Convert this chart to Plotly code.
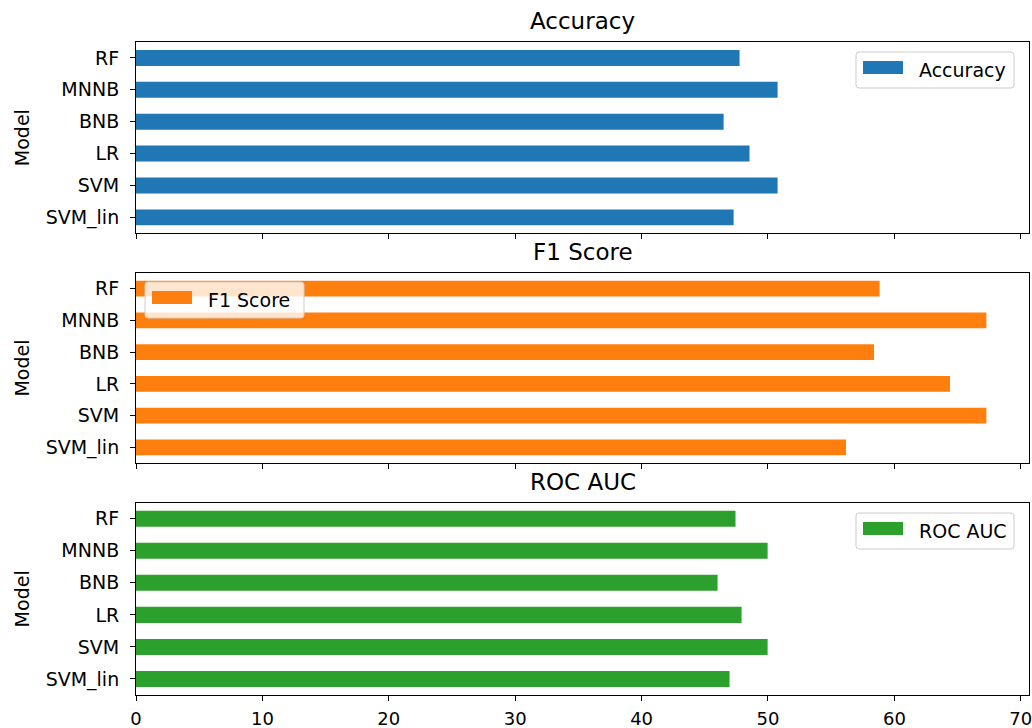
import plotly.graph_objects as go
from plotly.subplots import make_subplots

models = ["SVM_lin", "SVM", "LR", "BNB", "MNNB", "RF"]
accuracy = [47.28, 50.76, 48.54, 46.49, 50.76, 47.75]
f1_score = [56.17, 67.28, 64.40, 58.39, 67.28, 58.83]
roc_auc = [46.96, 49.97, 47.91, 46.01, 49.97, 47.43]
metric_names = ["Accuracy", "F1 Score", "ROC AUC"]
metric_values = [accuracy, f1_score, roc_auc]
colors = ["#1f77b4", "#ff7f0e", "#2ca02c"]
x_tick_vals = [0, 10, 20, 30, 40, 50, 60, 70]

W, H = 1032, 728
LEFT, RIGHT, TOP, BOTTOM = 136, 1029, 42, 695
ML, MR, MT, MB = LEFT, W - RIGHT, TOP, H - BOTTOM
PW, PH = RIGHT - LEFT, BOTTOM - TOP


def px(x):
    return (x - LEFT) / PW


def py(y):
    return (BOTTOM - y) / PH


rows_px = [(42, 233.3), (272.7, 463.3), (502.7, 695)]

fig = make_subplots(rows=3, cols=1, shared_xaxes=True)
FONT = "DejaVu Sans"
TICK = 19
XTICK = 18
TITLE = 23

for i, (name, vals, col) in enumerate(zip(metric_names, metric_values, colors)):
    fig.add_trace(
        go.Bar(x=vals, y=models, orientation="h", width=0.5, name=name,
               marker=dict(color=col, line=dict(width=0)), showlegend=False),
        row=i + 1, col=1)

layout_axes = {}
for i, (top, bot) in enumerate(rows_px):
    sfx = "" if i == 0 else str(i + 1)
    layout_axes["yaxis" + sfx] = dict(
        domain=[py(bot), py(top)], range=[-0.5, 5.5], type="category",
        showline=True, mirror=True, linecolor="black", linewidth=1,
        ticks="outside", ticklen=5, tickcolor="black", showgrid=False,
        ticklabelstandoff=7, automargin=False,
        tickfont=dict(size=TICK, color="black", family=FONT),
        title=dict(text="Model", font=dict(size=TICK, color="black", family=FONT), standoff=10),
    )
    layout_axes["xaxis" + sfx] = dict(
        range=[0, 70.65], tickvals=x_tick_vals, showline=True, mirror=True,
        linecolor="black", linewidth=1, ticks="outside", ticklen=5,
        tickcolor="black", showgrid=False, zeroline=False, automargin=False,
        showticklabels=(i == 2), ticklabelstandoff=2, ticklabeloverflow="allow",
        tickfont=dict(size=XTICK, color="black", family=FONT),
    )

fig.update_layout(**layout_axes)

annotations = []
shapes = []
for i, (top, bot) in enumerate(rows_px):
    annotations.append(dict(
        text=metric_names[i], x=0.5, y=py(top), xref="paper", yref="paper",
        xanchor="center", yanchor="bottom", yshift=6, showarrow=False,
        font=dict(size=TITLE, color="black", family=FONT)))

legend_boxes = [
    (856, 52, 1014, 88),
    (145, 282, 304, 318),
    (856, 513, 1014, 549),
]


def rounded_path(x0, y0, x1, y1, r=3):
    X = px
    Y = py
    return (f"M {X(x0 + r)},{Y(y0)} L {X(x1 - r)},{Y(y0)} Q {X(x1)},{Y(y0)} {X(x1)},{Y(y0 + r)} "
            f"L {X(x1)},{Y(y1 - r)} Q {X(x1)},{Y(y1)} {X(x1 - r)},{Y(y1)} "
            f"L {X(x0 + r)},{Y(y1)} Q {X(x0)},{Y(y1)} {X(x0)},{Y(y1 - r)} "
            f"L {X(x0)},{Y(y0 + r)} Q {X(x0)},{Y(y0)} {X(x0 + r)},{Y(y0)} Z")


for i, (x0, y0, x1, y1) in enumerate(legend_boxes):
    shapes.append(dict(type="path", path=rounded_path(x0, y0, x1, y1),
                       xref="paper", yref="paper", layer="above",
                       fillcolor="rgba(255,255,255,0.8)",
                       line=dict(color="#cccccc", width=1)))
    shapes.append(dict(type="rect", xref="paper", yref="paper", layer="above",
                       x0=px(x0 + 7), x1=px(x0 + 47), y0=py(y0 + 9), y1=py(y0 + 22),
                       fillcolor=colors[i], line=dict(width=0)))
    annotations.append(dict(text=metric_names[i], x=px(x0 + 61), y=py((y0 + y1) / 2),
                            xref="paper", yref="paper", xanchor="left", yanchor="middle",
                            showarrow=False, font=dict(size=TICK, color="black", family=FONT)))

fig.update_layout(
    width=W, height=H, margin=dict(l=ML, r=MR, t=MT, b=MB, autoexpand=False),
    plot_bgcolor="white", paper_bgcolor="white",
    annotations=annotations, shapes=shapes, showlegend=False,
    font=dict(family=FONT, size=TICK, color="black"),
)

fig.write_html(
    "out.html",
    config={"displayModeBar": False},
    post_script="document.body.style.margin='0';document.body.style.overflow='hidden';",
)
